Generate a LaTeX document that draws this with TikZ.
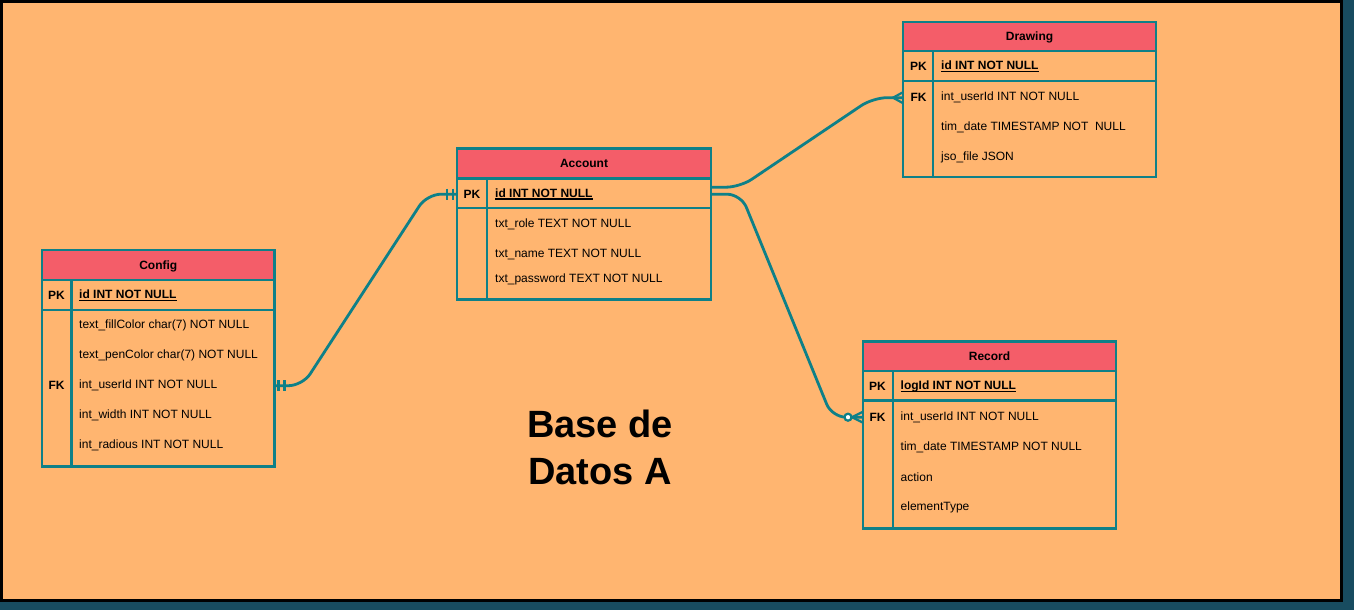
\documentclass[tikz,border=0pt]{standalone}
\usepackage{fontspec}
\setmainfont{Liberation Sans}
\usetikzlibrary{positioning,decorations.markings}

\definecolor{erline}{RGB}{14,128,136}
\definecolor{erhead}{RGB}{244,93,105}
\definecolor{erbody}{RGB}{255,181,112}
\definecolor{erback}{RGB}{24,76,96}

\newcommand\pkline[1]{{\setbox0\hbox{#1}\rlap{\rule[-2.2pt]{\wd0}{1.3pt}}\box0}}

\tikzset{
	tbl/.style={rectangle,draw=erline,line width=2.7,fill=erbody,anchor=north west,inner sep=0,outer sep=0},
	tblhead/.style={tbl,fill=erhead,minimum height=29.5,text height=8.6,text depth=0,font=\bfseries\fontsize{12}{14}\selectfont},
	tblline/.style={draw=erline,line width=2.7},
	keytxt/.style={inner sep=0,yshift=-0.7,font=\bfseries\fontsize{12}{14}\selectfont},
	fieldtxt/.style={anchor=west,inner sep=0,yshift=-0.7,font=\fontsize{12}{14}\selectfont},
	pktxt/.style={fieldtxt,font=\bfseries\fontsize{12}{14}\selectfont},
	rel/.style={draw=erline,line width=2.8,rounded corners=14},
	tipline/.style={draw=erline,line width=2.2,sharp corners},
	oneone/.style={postaction={decorate,decoration={markings,
		mark=at position 0 with {\draw[tipline] (4,-5.5) -- (4,5.5) (10,-5.5) -- (10,5.5);},
		mark=at position 1 with {\draw[tipline] (-4,-5.5) -- (-4,5.5) (-10,-5.5) -- (-10,5.5);}}}},
	onemany/.style={postaction={decorate,decoration={markings,
		mark=at position 1 with {\draw[tipline] (0,-5.5) -- (-10,0) -- (0,5.5);}}}},
	zeromany/.style={postaction={decorate,decoration={markings,
		mark=at position 1 with {\draw[tipline] (0,-5.5) -- (-11,0) -- (0,5.5);
			\draw[tipline,fill=white] (-15,0) circle (3.5);}}}},
	title/.style={align=center,inner sep=0,font=\bfseries\fontsize{38}{47}\selectfont}
}

\begin{document}
\begin{tikzpicture}[x=1pt,y=-1pt]
		%background
		\useasboundingbox (0,0) rectangle (1354,610);
		\fill[erback] (0,0) rectangle (1354,610);
		\draw[line width=3,fill=erbody] (1.5,1.5) rectangle (1341.3,600.8);

		%config table
		\node[tbl,minimum width=232.5,minimum height=216.5] (cfg) at (42,250) {};
		\node[tblhead,minimum width=232.5,minimum height=30] (cfgh) at (42,250) {Config};
		\draw[tblline] (42,310) -- (274.5,310);
		\draw[tblline] (71.5,280) -- (71.5,466.5);
		\node[keytxt] (cfgpk) at (56.5,295) {PK};
		\node[pktxt] (cfgid) at (79,295) {\pkline{id INT NOT NULL}};
		\node[fieldtxt] (cfg1) at (79,325) {text\_fillColor char(7) NOT NULL};
		\node[fieldtxt] (cfg2) at (79,355) {text\_penColor char(7) NOT NULL};
		\node[keytxt] (cfgfk) at (56.5,385) {FK};
		\node[fieldtxt] (cfg3) at (79,385) {int\_userId INT NOT NULL};
		\node[fieldtxt] (cfg4) at (79,415) {int\_width INT NOT NULL};
		\node[fieldtxt] (cfg5) at (79,445) {int\_radious INT NOT NULL};

		%account table
		\node[tbl,minimum width=254,minimum height=151] (acc) at (457,148.5) {};
		\node[tblhead,minimum width=254,minimum height=30] (acch) at (457,148.5) {Account};
		\draw[tblline] (457,208) -- (711,208);
		\draw[tblline] (487,178.5) -- (487,299.5);
		\node[keytxt] (accpk) at (472,193.5) {PK};
		\node[pktxt] (accid) at (495,193.5) {\pkline{id INT NOT NULL}};
		\node[fieldtxt] (acc1) at (495,224) {txt\_role TEXT NOT NULL};
		\node[fieldtxt] (acc2) at (495,254) {txt\_name TEXT NOT NULL};
		\node[fieldtxt] (acc3) at (495,279) {txt\_password TEXT NOT NULL};

		%drawing table
		\node[tbl,minimum width=253,minimum height=155] (drw) at (903,22) {};
		\node[tblhead,minimum width=253,minimum height=29] (drwh) at (903,22) {Drawing};
		\draw[tblline] (903,81) -- (1156,81);
		\draw[tblline] (933,51) -- (933,177);
		\node[keytxt] (drwpk) at (918.5,66) {PK};
		\node[pktxt] (drwid) at (941,66) {\pkline{id INT NOT NULL}};
		\node[keytxt] (drwfk) at (918.5,97) {FK};
		\node[fieldtxt] (drw1) at (941,97) {int\_userId INT NOT NULL};
		\node[fieldtxt] (drw2) at (941,127) {tim\_date TIMESTAMP NOT\ \ NULL};
		\node[fieldtxt] (drw3) at (941,157) {jso\_file JSON};

		%record table
		\node[tbl,minimum width=253,minimum height=187] (rec) at (863,341.5) {};
		\node[tblhead,minimum width=253,minimum height=29.5] (rech) at (863,341.5) {Record};
		\draw[tblline] (863,400.5) -- (1116,400.5);
		\draw[tblline] (893,371) -- (893,528.5);
		\node[keytxt] (recpk) at (877.5,386) {PK};
		\node[pktxt] (recid) at (900.5,386) {\pkline{logId INT NOT NULL}};
		\node[keytxt] (recfk) at (877.5,416.5) {FK};
		\node[fieldtxt] (rec1) at (900.5,416.5) {int\_userId INT NOT NULL};
		\node[fieldtxt] (rec2) at (900.5,446.5) {tim\_date TIMESTAMP NOT NULL};
		\node[fieldtxt] (rec3) at (900.5,476.5) {action};
		\node[fieldtxt] (rec4) at (900.5,506.5) {elementType};

		%title
		\node[title] (ttl) at (600,447) {Base de\\Datos A};

		%relations
		\draw[rel,oneone] (cfg.east |- cfgfk) -- ++(28,0) -- ([xshift=-30]acc.west |- accpk) -- (acc.west |- accpk);
		\draw[rel,onemany] ([yshift=7]acc.east |- accpk) -- ++(29,0) -- ([xshift=-30]drw.west |- drwfk) -- (drw.west |- drwfk);
		\draw[rel,zeromany] (acc.east |- accpk) -- ++(30,0) -- ([xshift=-31]rec.west |- recfk) -- (rec.west |- recfk);
	\end{tikzpicture}
\end{document}
